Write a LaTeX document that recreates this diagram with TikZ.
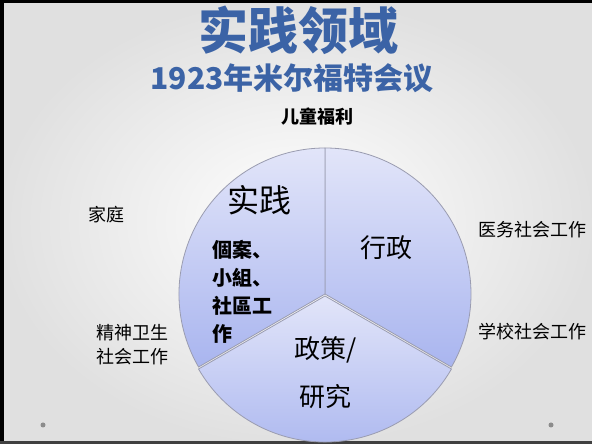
\documentclass[tikz,border=0pt]{standalone}
\usepackage{fontspec}
\setmainfont{Noto Sans CJK SC}
\newfontfamily\cjk{Noto Sans CJK SC}
\definecolor{titleblue}{HTML}{3B63A6}
\definecolor{slicetop}{HTML}{E2E5F9}
\definecolor{slicebot}{HTML}{A9B5EF}
\definecolor{sliceline}{HTML}{9A9CB0}
\begin{document}
\begin{tikzpicture}[x=1pt,y=1pt,
  slice/.style={top color=slicetop, bottom color=slicebot, draw=sliceline, line width=0.8pt},
  side/.style={inner sep=0pt, font=\fontsize{18}{24}\selectfont, align=center}]
\useasboundingbox (0,0) rectangle (592,444);
% background of the slide
\shade[inner color=white, outer color=black!12] (0,0) rectangle (592,444);
\fill[black] (0,0) rectangle (4,444);
\fill[black] (0,441) rectangle (592,444);
\fill[black!75] (0,0) rectangle (592,3);
\fill[black!45] (43,19) circle (2.5);
\fill[black!45] (551,19) circle (2.5);

\node[font=\fontsize{50}{50}\selectfont\bfseries, text=titleblue] (title) at (298,414){实践领域};
\node[font=\fontsize{30}{30}\selectfont\bfseries, text=titleblue] (meeting) at (292,366){1923年米尔福特会议};
\node[font=\fontsize{18}{18}\selectfont\bfseries] (child) at (317,327){儿童福利};

% the pie
\coordinate (c) at (325,150);
\path[slice] (c) -- ++(90:146) arc[start angle=90, end angle=-30, radius=146] -- cycle;
\path[slice] ([yshift=-2]c) -- ++(-30:146) arc[start angle=-30, end angle=-150, radius=146] -- cycle;
\path[slice] (c) -- ++(210:146) arc[start angle=210, end angle=90, radius=146] -- cycle;

\node[font=\fontsize{32}{32}\selectfont] (practice) at (259,244){实践};
\node[anchor=west, align=left, inner sep=0pt, font=\fontsize{20}{28}\selectfont\bfseries] (methods) at (212,152){個案、\\小組、\\社區工\\作};
\node[font=\fontsize{26}{26}\selectfont] (admin) at (386,196){行政};
\node[font=\fontsize{26}{26}\selectfont] (policy) at (326,94){政策/};
\node[font=\fontsize{26}{26}\selectfont] (research) at (325,47){研究};

% fields round the pie
\node[side] (family) at (106,229){家庭};
\node[side] (mental) at (132,99){精神卫生\\社会工作};
\node[side] (medical) at (532,214){医务社会工作};
\node[side] (school) at (532,112){学校社会工作};
\end{tikzpicture}
\end{document}
